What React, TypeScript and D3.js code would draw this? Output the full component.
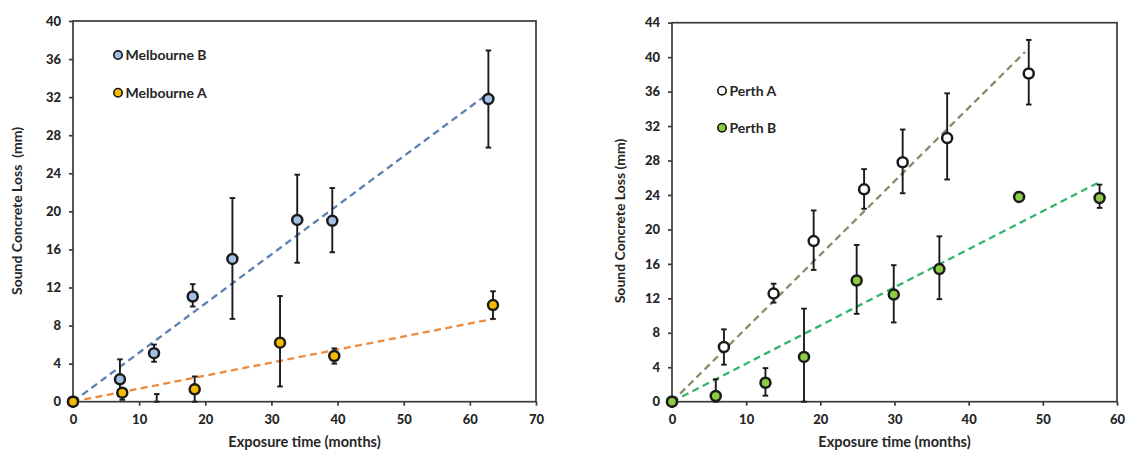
import React, { useEffect, useRef } from "react";
import * as d3 from "d3";

// Melbourne panel, exposure time (months) vs sound concrete loss (mm)
const melbBX = [0, 7.1, 12.25, 18.1, 24.1, 33.9, 39.2, 62.8];
const melbBY = [0, 2.35, 5.1, 11.05, 15.0, 19.1, 19.0, 31.8];
const melbBLo = [0, 0.6, 4.2, 10.0, 8.7, 14.6, 15.7, 26.7];
const melbBHi = [0, 4.45, 6.0, 12.35, 21.4, 23.85, 22.45, 36.9];

const melbAX = [0, 7.45, 12.66, 18.4, 31.3, 39.5, 63.5];
const melbAY = [0, 0.95, -1.0, 1.3, 6.2, 4.8, 10.15];
const melbALo = [0, 0.2, -2.0, 0, 1.6, 4.0, 8.7];
const melbAHi = [0, 1.3, 0.8, 2.65, 11.1, 5.6, 11.6];

// fitted trend lines (end points)
const melbBTrendX = [0, 63];
const melbBTrendY = [0, 32.5];
const melbATrendX = [0, 63.5];
const melbATrendY = [0, 8.7];

// Perth panel
const perthAX = [0, 7.0, 13.7, 19.1, 25.9, 31.1, 37.1, 48.1];
const perthAY = [0, 6.35, 12.55, 18.65, 24.65, 27.8, 30.6, 38.1];
const perthALo = [0, 4.3, 11.5, 15.3, 22.4, 24.2, 25.8, 34.5];
const perthAHi = [0, 8.4, 13.7, 22.2, 27.0, 31.6, 35.8, 42.0];

const perthBX = [0, 5.9, 12.6, 17.8, 24.9, 29.9, 36.05, 46.8, 57.65];
const perthBY = [0, 0.66, 2.2, 5.2, 14.07, 12.44, 15.4, 23.77, 23.65];
const perthBLo = [0, 0, 0.7, 0, 10.2, 9.2, 11.9, 23.77, 22.5];
const perthBHi = [0, 2.6, 3.9, 10.8, 18.2, 15.85, 19.2, 23.77, 25.2];

const perthATrendX = [0, 47.6];
const perthATrendY = [0, 40.6];
const perthBTrendX = [0, 57.4];
const perthBTrendY = [0, 25.4];

const leftXTicks = [0, 10, 20, 30, 40, 50, 60, 70];
const leftYTicks = [0, 4, 8, 12, 16, 20, 24, 28, 32, 36, 40];
const rightXTicks = [0, 10, 20, 30, 40, 50, 60];
const rightYTicks = [0, 4, 8, 12, 16, 20, 24, 28, 32, 36, 40, 44];

const FONT = "Lato, 'Open Sans', sans-serif";

type Series = {
  name: string;
  x: number[];
  y: number[];
  lo: number[];
  hi: number[];
  fill: string;
  trendX: number[];
  trendY: number[];
  trendColor: string;
};

type Panel = {
  xRange: [number, number];
  yRange: [number, number];
  xMax: number;
  yMax: number;
  xTicks: number[];
  yTicks: number[];
  yTitle: string;
  yTitleX: number;
  yTitleY: number;
  legendX: number;
  legendY: number[];
  series: Series[];
};

function drawPanel(svg: any, p: Panel) {
  const x = d3.scaleLinear().domain([0, p.xMax]).range(p.xRange);
  const y = d3.scaleLinear().domain([0, p.yMax]).range(p.yRange);

  // frame
  svg.append("rect")
    .attr("x", x(0))
    .attr("y", y(p.yMax))
    .attr("width", x(p.xMax) - x(0))
    .attr("height", y(0) - y(p.yMax))
    .attr("fill", "none")
    .attr("stroke", "#3a3a3a")
    .attr("stroke-width", 1.7);

  // axes
  const xAxis = svg.append("g")
    .attr("transform", "translate(0," + y(0) + ")")
    .call(d3.axisBottom(x).tickValues(p.xTicks).tickSize(4).tickPadding(9).tickFormat(d3.format("d")));
  const yAxis = svg.append("g")
    .attr("transform", "translate(" + x(0) + ",0)")
    .call(d3.axisLeft(y).tickValues(p.yTicks).tickSize(4).tickPadding(8).tickFormat(d3.format("d")));
  [xAxis, yAxis].forEach((a) => {
    a.select(".domain").remove();
    a.selectAll("line").attr("stroke", "#3a3a3a").attr("stroke-width", 1.7);
    a.selectAll("text")
      .attr("fill", "#262626")
      .style("font-family", FONT)
      .style("font-size", "13px")
      .style("font-weight", "900");
  });

  // axis titles
  svg.append("text")
    .attr("x", (x(0) + x(p.xMax)) / 2)
    .attr("y", 447)
    .attr("text-anchor", "middle")
    .attr("fill", "#262626")
    .style("font-family", FONT)
    .style("font-size", "14.5px")
    .style("font-weight", "bold")
    .text("Exposure time (months)");

  svg.append("text")
    .attr("transform", "translate(" + p.yTitleX + "," + p.yTitleY + ") rotate(-90)")
    .attr("text-anchor", "middle")
    .attr("fill", "#262626")
    .style("font-family", FONT)
    .style("font-size", "14px")
    .style("font-weight", "bold")
    .style("white-space", "pre")
    .text(p.yTitle);

  // trend lines
  p.series.forEach((s) => {
    const pts = s.trendX.map((v, i) => [v, s.trendY[i]] as [number, number]);
    svg.append("path")
      .datum(pts)
      .attr("fill", "none")
      .attr("stroke", s.trendColor)
      .attr("stroke-width", 2.3)
      .attr("stroke-dasharray", "7,4.5")
      .attr("d", d3.line().x((d) => x(d[0])).y((d) => y(d[1])));
  });

  // error bars and markers
  p.series.forEach((s) => {
    const data = s.x.map((v, i) => ({ x: v, y: s.y[i], lo: Math.max(0, s.lo[i]), hi: s.hi[i] }));
    const bars = svg.append("g")
      .selectAll("g")
      .data(data.filter((d) => d.hi - d.lo > 0.05))
      .enter()
      .append("g")
      .attr("stroke", "#1a1a1a")
      .attr("stroke-width", 1.9);
    bars.append("line")
      .attr("x1", (d) => x(d.x)).attr("x2", (d) => x(d.x))
      .attr("y1", (d) => y(d.lo)).attr("y2", (d) => y(d.hi));
    bars.append("line")
      .attr("x1", (d) => x(d.x) - 2.8).attr("x2", (d) => x(d.x) + 2.8)
      .attr("y1", (d) => y(d.hi)).attr("y2", (d) => y(d.hi));
    bars.append("line")
      .attr("x1", (d) => x(d.x) - 2.8).attr("x2", (d) => x(d.x) + 2.8)
      .attr("y1", (d) => y(d.lo)).attr("y2", (d) => y(d.lo));
  });

  p.series.forEach((s) => {
    const data = s.x.map((v, i) => ({ x: v, y: s.y[i] }));
    svg.append("g")
      .selectAll("circle")
      .data(data.filter((d) => d.y >= 0))
      .enter()
      .append("circle")
      .attr("cx", (d) => x(d.x))
      .attr("cy", (d) => y(d.y))
      .attr("r", 5)
      .attr("fill", s.fill)
      .attr("stroke", "#1a1a1a")
      .attr("stroke-width", 2.5);
  });

  // legend
  p.series.forEach((s, i) => {
    svg.append("circle")
      .attr("cx", p.legendX)
      .attr("cy", p.legendY[i])
      .attr("r", 4.2)
      .attr("fill", s.fill)
      .attr("stroke", "#1a1a1a")
      .attr("stroke-width", 1.7);
    svg.append("text")
      .attr("x", p.legendX + 7.5)
      .attr("y", p.legendY[i])
      .attr("dy", "0.35em")
      .attr("fill", "#262626")
      .style("font-family", FONT)
      .style("font-size", "14px")
      .style("font-weight", "bold")
      .text(s.name);
  });
}

export default function App() {
  const ref = useRef<SVGSVGElement>(null);

  useEffect(() => {
    document.body.style.margin = "0";
    const svg = d3.select(ref.current);
    svg.selectAll("*").remove();

    drawPanel(svg, {
      xRange: [73, 536],
      yRange: [401.7, 21],
      xMax: 70,
      yMax: 40,
      xTicks: leftXTicks,
      yTicks: leftYTicks,
      yTitle: "Sound Concrete Loss  (mm)",
      yTitleX: 22,
      yTitleY: 211,
      legendX: 118,
      legendY: [55, 92.7],
      series: [
        { name: "Melbourne B", x: melbBX, y: melbBY, lo: melbBLo, hi: melbBHi, fill: "#a3bfe3",
          trendX: melbBTrendX, trendY: melbBTrendY, trendColor: "#5b80b2" },
        { name: "Melbourne A", x: melbAX, y: melbAY, lo: melbALo, hi: melbAHi, fill: "#f6bb00",
          trendX: melbATrendX, trendY: melbATrendY, trendColor: "#ee8a3c" },
      ],
    });

    drawPanel(svg, {
      xRange: [672, 1117],
      yRange: [401.7, 22.7],
      xMax: 60,
      yMax: 44,
      xTicks: rightXTicks,
      yTicks: rightYTicks,
      yTitle: "Sound Concrete Loss (mm)",
      yTitleX: 625,
      yTitleY: 221,
      legendX: 722,
      legendY: [90.7, 127.7],
      series: [
        { name: "Perth A", x: perthAX, y: perthAY, lo: perthALo, hi: perthAHi, fill: "#ffffff",
          trendX: perthATrendX, trendY: perthATrendY, trendColor: "#8b8b6a" },
        { name: "Perth B", x: perthBX, y: perthBY, lo: perthBLo, hi: perthBHi, fill: "#8ccb42",
          trendX: perthBTrendX, trendY: perthBTrendY, trendColor: "#33b56b" },
      ],
    });
  }, []);

  return <svg ref={ref} width={1126} height={453} style={{ display: "block", background: "#fff" }} />;
}
